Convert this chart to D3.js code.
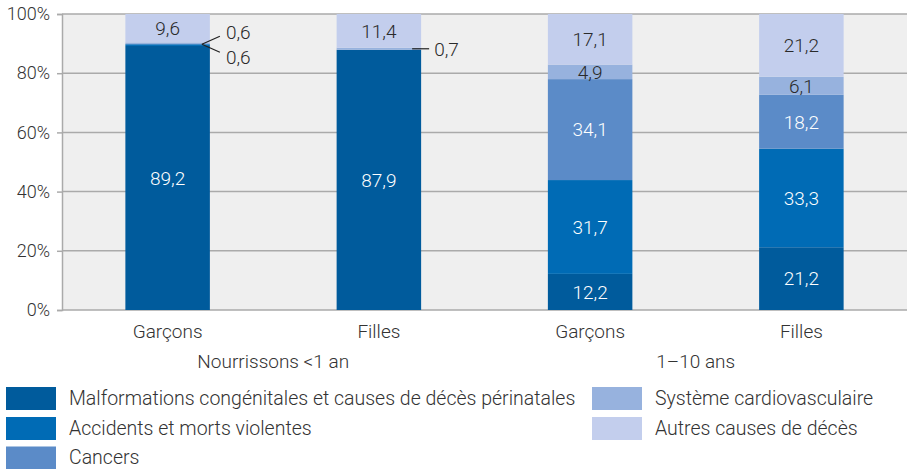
<!DOCTYPE html>
<html><head><meta charset="utf-8">
<script src="https://cdn.jsdelivr.net/npm/d3@7"></script>
<style>
body{margin:0;background:#fff;}
text{font-family:Roboto,"Noto Sans",sans-serif;font-weight:300;}
</style></head>
<body><svg id="c" width="907" height="469"></svg>
<script>
const bars = ["Garçons","Filles","Garçons","Filles"];
const groups = ["Nourrissons <1 an","1–10 ans"];
const causes = ["Malformations congénitales et causes de décès périnatales","Accidents et morts violentes","Cancers","Système cardiovasculaire","Autres causes de décès"];
const malformations = [89.2, 87.9, 12.2, 21.2];
const accidents     = [0.6, 0, 31.7, 33.3];
const cancers       = [0, 0, 34.1, 18.2];
const cardio        = [0.6, 0.7, 4.9, 6.1];
const autres        = [9.6, 11.4, 17.1, 21.2];
const yTicks = [0,20,40,60,80,100];
const colors = ["#005b9c","#006bb5","#5b8bc8","#97b2de","#c3ceed"];
const textColors = ["#fff","#fff","#fff","#2a2a2a","#2a2a2a"];

const series = [malformations, accidents, cancers, cardio, autres];
const rows = bars.map((b,i)=>{const r={i}; causes.forEach((c,k)=>r[c]=series[k][i]); return r;});
const stack = d3.stack().keys(causes)(rows);

const svg = d3.select("#c");
const mL=62, mR=907, mT=14, mB=310;
const x = d3.scaleBand().domain(d3.range(bars.length)).range([mL,mR]).paddingInner(0.6).paddingOuter(0.3);
const y = d3.scaleLinear().domain([0,100]).range([mB,mT]);
const FS = 19;

svg.append("rect").attr("x",mL).attr("y",mT).attr("width",mR-mL).attr("height",mB-mT).attr("fill","#efefef");

// grid
svg.append("g").selectAll("line").data(yTicks).join("line")
  .attr("x1",mL).attr("x2",mR).attr("y1",d=>y(d)).attr("y2",d=>y(d))
  .attr("stroke","#aaaaaa").attr("stroke-width",1.5);

// axis
const ax = svg.append("g").attr("transform",`translate(${mL},0)`)
  .call(d3.axisLeft(y).tickValues(yTicks).tickFormat(d=>d+"%").tickSize(5).tickPadding(7));
ax.select(".domain").attr("stroke","#aaaaaa").attr("stroke-width",1.5);
ax.selectAll(".tick line").attr("stroke","#aaaaaa").attr("stroke-width",1.5);
ax.selectAll(".tick text").attr("font-size",18).attr("fill","#333").attr("font-family","Roboto").attr("font-weight",300);

// bars
const fmt = v => String(v).replace(".",",");
stack.forEach((s,k)=>{
  const key = causes[k];
  const g = svg.append("g");
  g.selectAll("rect").data(s).join("rect")
    .attr("x",(d,i)=>x(i)).attr("width",x.bandwidth())
    .attr("y",d=>y(d[1])).attr("height",d=>y(d[0])-y(d[1]))
    .attr("fill",colors[k]);
  g.selectAll("text").data(s.filter(d=>d.data[key]>=3)).join("text")
    .attr("x",d=>x(d.data.i)+x.bandwidth()/2).attr("y",d=>y((d[0]+d[1])/2))
    .attr("dy","0.36em").attr("text-anchor","middle").attr("font-size",FS)
    .attr("fill",textColors[k]).text(d=>fmt(d.data[key]));
});

// small-value callouts
const smalls = [];
stack.forEach((s,k)=>s.forEach(d=>{const v=d.data[causes[k]]; if(v>0 && v<3) smalls.push({i:d.data.i,v,mid:(d[0]+d[1])/2});}));
const byBar = d3.group(smalls,d=>d.i);
byBar.forEach((arr,i)=>{
  const xe = x(i)+x.bandwidth();
  const ym = y(d3.mean(arr,d=>d.mid));
  if(arr.length===1){
    svg.append("line").attr("x1",xe-9).attr("x2",xe+8).attr("y1",ym).attr("y2",ym).attr("stroke","#222").attr("stroke-width",1.2);
    svg.append("text").attr("x",xe+13).attr("y",ym).attr("dy","0.36em").attr("font-size",FS).attr("fill","#2a2a2a").text(fmt(arr[0].v));
  } else {
    arr.forEach((d,j)=>{
      const sgn = j===0 ? 1 : -1;
      svg.append("line").attr("x1",xe-8).attr("x2",xe+10).attr("y1",ym).attr("y2",ym+sgn*8).attr("stroke","#222").attr("stroke-width",1.2);
      svg.append("text").attr("x",xe+16).attr("y",ym+sgn*12.5).attr("dy","0.36em").attr("font-size",FS).attr("fill","#2a2a2a").text(fmt(d.v));
    });
  }
});

// category labels
svg.append("g").selectAll("text").data(bars).join("text")
  .attr("x",(d,i)=>x(i)+x.bandwidth()/2).attr("y",331).attr("dy","0.36em")
  .attr("text-anchor","middle").attr("font-size",FS).attr("fill","#333").text(d=>d);
svg.append("g").selectAll("text").data(groups).join("text")
  .attr("x",(d,i)=>(x(2*i)+x(2*i+1)+x.bandwidth())/2).attr("y",361).attr("dy","0.36em")
  .attr("text-anchor","middle").attr("font-size",FS).attr("fill","#333").text(d=>d);

// legend
const legPos = [[6,398.5],[6,428.5],[6,458],[592,398.5],[592,428.5]];
const lg = svg.append("g").selectAll("g").data(causes).join("g")
  .attr("transform",(d,k)=>`translate(${legPos[k][0]},${legPos[k][1]})`);
lg.append("rect").attr("x",0).attr("y",-11.5).attr("width",50).attr("height",23).attr("fill",(d,k)=>colors[k]);
lg.append("text").attr("x",63).attr("dy","0.33em").attr("font-size",19.5).attr("fill","#333").text(d=>d);
</script></body></html>
